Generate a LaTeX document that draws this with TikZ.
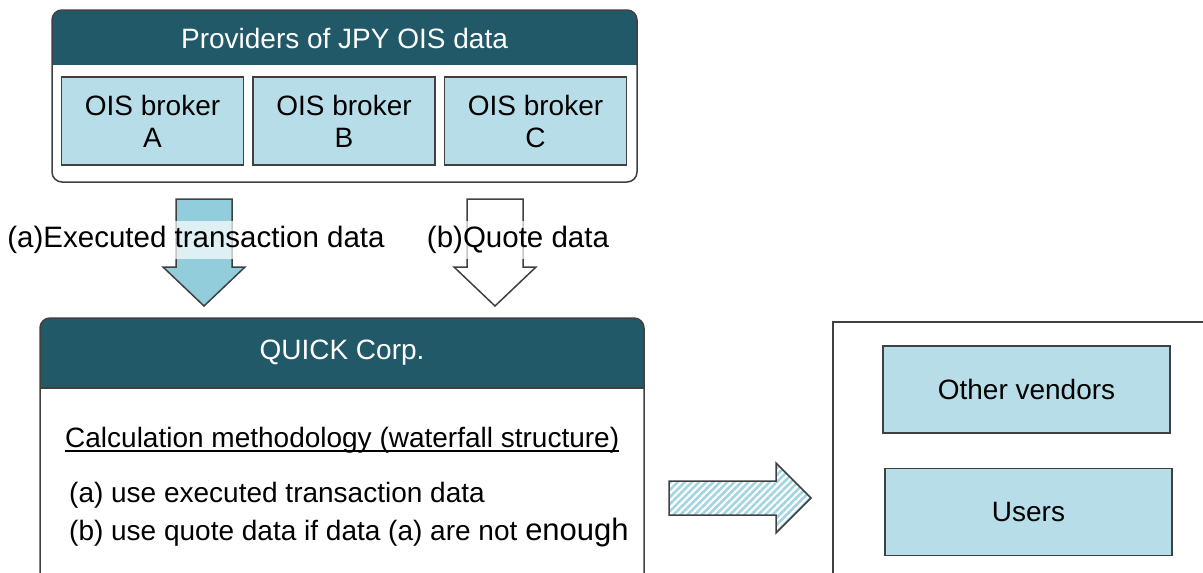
\documentclass[tikz,border=0pt]{standalone}
\usepackage{fontspec}
\setmainfont{Liberation Sans}
\usepackage{xcolor}
\usepackage{tikz}
\usetikzlibrary{positioning,patterns.meta}
\definecolor{headteal}{HTML}{215968}
\definecolor{boxblue}{HTML}{B7DEE8}
\definecolor{flowblue}{HTML}{92CDDC}
\definecolor{edgegrey}{HTML}{404040}
\newcommand{\txt}{\fontsize{28}{32}\selectfont}
\tikzset{
  outline/.style={draw=edgegrey, line width=1.5pt},
  headband/.style={fill=headteal},
  headtext/.style={text=white, font=\txt},
  broker/.style={rectangle, fill=boxblue, draw=edgegrey, line width=1.5pt, minimum width=182pt, minimum height=88pt, align=center, font=\txt},
  receiver/.style={rectangle, fill=boxblue, draw=edgegrey, line width=1.5pt, minimum width=287pt, minimum height=87pt, font=\txt},
  flow/.style={draw=edgegrey, line width=1.5pt},
  flowlabel/.style={font=\fontsize{29.5}{33}\selectfont, fill=white, fill opacity=0.7, text opacity=1, inner xsep=1pt, inner ysep=5pt},
  method/.style={font=\txt, anchor=base west, inner sep=0pt}
}

\begin{document}
\begin{tikzpicture}[x=1pt, y=-1pt]
  \path[use as bounding box, clip] (0,0) rectangle (1203,573);

  % Providers
  \fill[white, rounded corners=10pt] (52,10) rectangle (637,182);
  \begin{scope}
    \clip (40,0) rectangle (650,64);
    \fill[headband, rounded corners=10pt] (52,10) rectangle (637,182);
  \end{scope}
  \draw[outline, rounded corners=10pt] (52,10) rectangle (637,182);
  \node (providers) [headtext] at (344.5,38) {Providers of JPY OIS data};
  \node (brokerA) [broker] at (152.5,121) {OIS broker\\A};
  \node (brokerB) [broker, right=8pt of brokerA] {OIS broker\\B};
  \node (brokerC) [broker, right=8pt of brokerB] {OIS broker\\C};

  % Data flows
  \draw[flow, fill=flowblue] (176,199) -- (232,199) -- (232,267) -- (245,267) -- (204,306) -- (163,267) -- (176,267) -- cycle;
  \draw[flow, fill=white] (467,199) -- (523,199) -- (523,267) -- (536,267) -- (495,306) -- (454,267) -- (467,267) -- cycle;
  \node (execlabel) [flowlabel] at (196,240) {(a)Executed transaction data};
  \node (quotelabel) [flowlabel] at (518,240) {(b)Quote data};

  % QUICK Corp.
  \fill[white] (40,318) rectangle (644,600);
  \begin{scope}
    \clip (30,300) rectangle (660,388);
    \fill[headband, rounded corners=10pt] (40,318) rectangle (644,600);
  \end{scope}
  \draw[outline] (40,600) -- (40,388) [rounded corners=10pt] |- (342,318) -| (644,388) [sharp corners] -- (644,600);
  \draw[outline] (40,388) -- (644,388);
  \node (quick) [headtext] at (342,353) {QUICK Corp.};
  \node (methodtitle) [method] at (65,447) {Calculation methodology (waterfall structure)};
  \draw[line width=1.2pt] ([yshift=-4pt]methodtitle.base west) -- ([yshift=-4pt]methodtitle.base east);
  \node (rulea) [method] at (69,502) {(a) use executed transaction data};
  \node (ruleb) [method] at (69,540) {(b) use quote data if data (a) are not {\fontsize{31}{34}\selectfont enough}};

  % Distribution
  \draw[flow, pattern={Lines[angle=45, distance=5pt, line width=2.6pt]}, pattern color=flowblue!85] (669,481) -- (776,481) -- (776,463) -- (811,498) -- (776,533) -- (776,515) -- (669,515) -- cycle;
  \draw[outline] (833,600) |- (1220,322);
  \node (vendors) [receiver] at (1026.5,389.5) {Other vendors};
  \node (users) [receiver] at (1028.5,512) {Users};
\end{tikzpicture}
\end{document}
